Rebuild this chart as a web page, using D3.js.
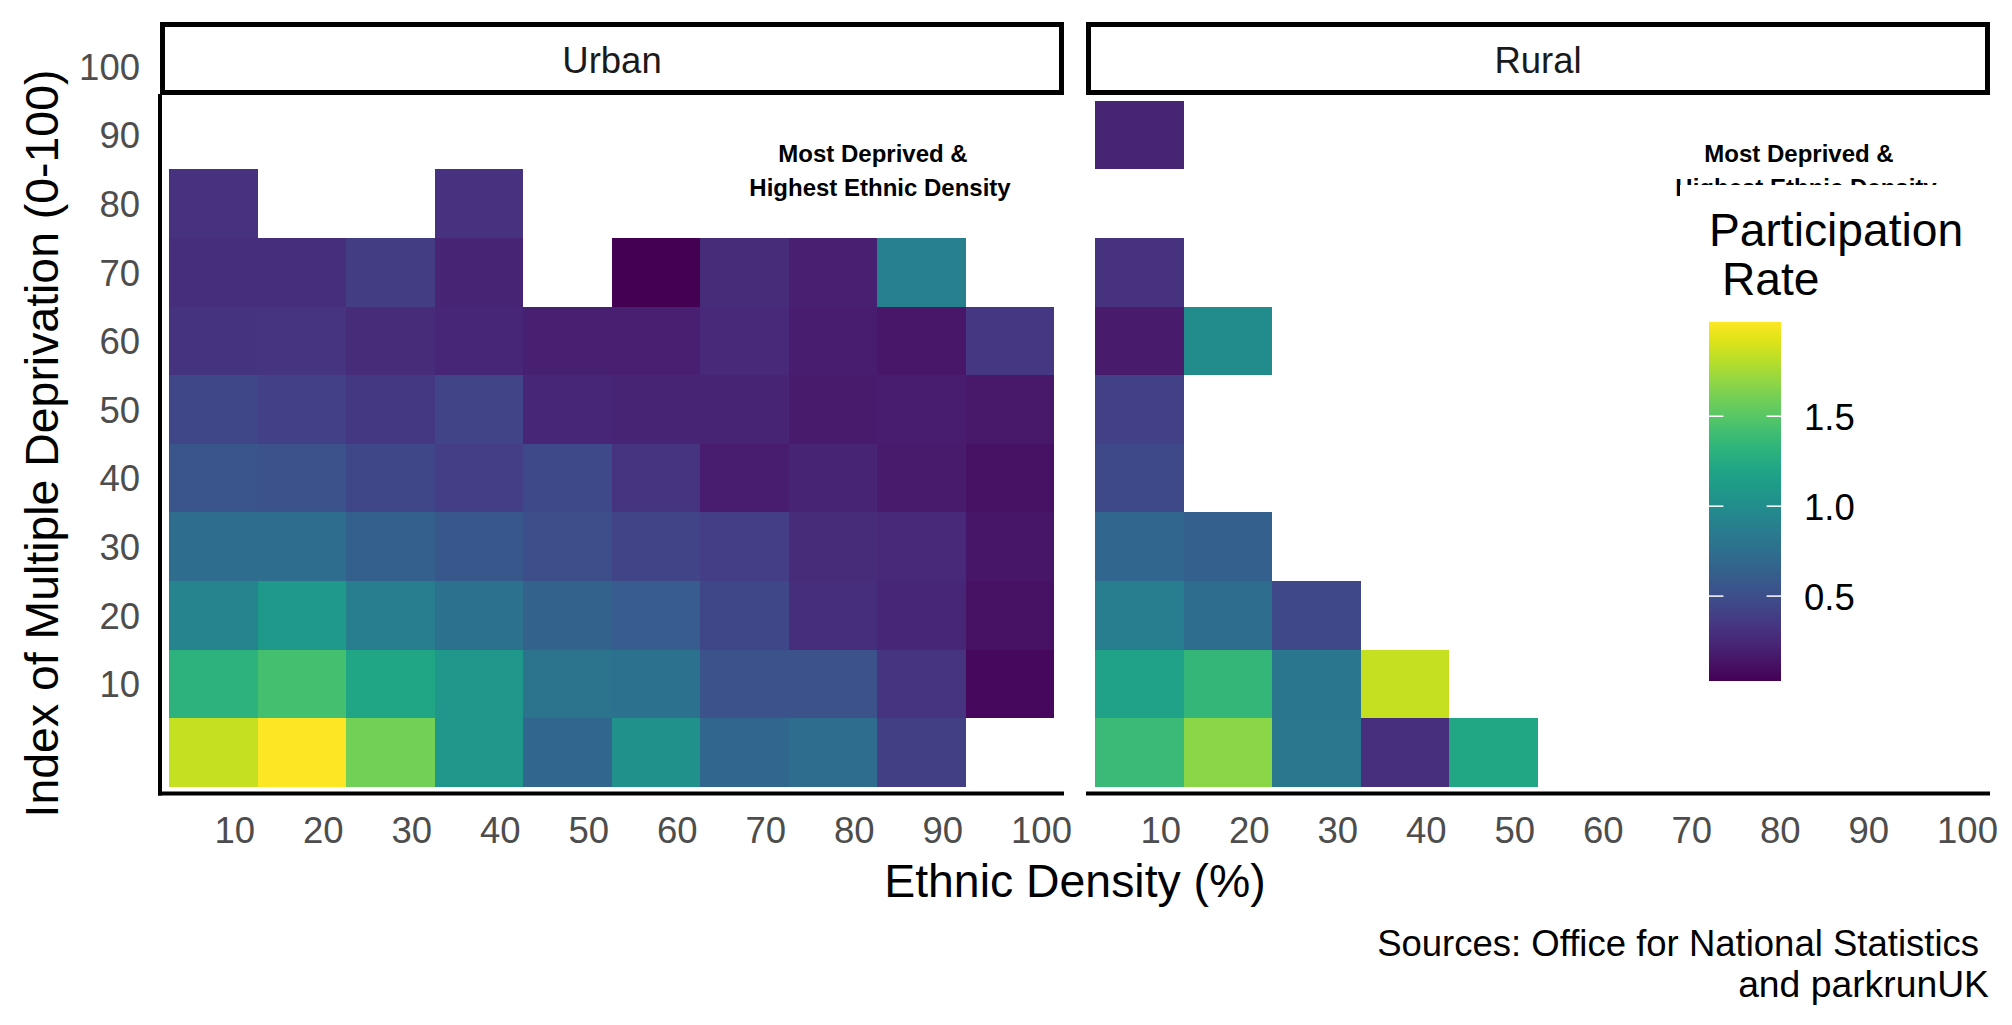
<!DOCTYPE html>
<html><head><meta charset="utf-8">
<script src="https://cdn.jsdelivr.net/npm/d3@7"></script>
<style>
html,body{margin:0;padding:0;background:#fff}
svg{display:block}
text{font-family:"Liberation Sans",Arial,sans-serif}
</style></head><body>
<svg id="c" width="2012" height="1025"></svg>
<script>
const ethnicDensity=[10,20,30,40,50,60,70,80,90,100];
const deprivation=[0,10,20,30,40,50,60,70,80,90,100];
// value rows: one list per deprivation band, columns follow ethnicDensity; null = no area
const urban0=[1.85,2.02,1.6,1.09,.69,1.03,.69,.73,.4,null];
const urban10=[1.31,1.43,1.21,1.09,.79,.77,.53,.53,.33,.07];
const urban20=[.93,1.11,.87,.77,.65,.61,.45,.29,.24,.12];
const urban30=[.73,.73,.63,.57,.51,.43,.39,.27,.25,.14];
const urban40=[.55,.53,.45,.39,.47,.33,.19,.23,.17,.12];
const urban50=[.45,.41,.35,.43,.24,.23,.23,.17,.19,.16];
const urban60=[.32,.33,.27,.24,.2,.2,.26,.18,.15,.34];
const urban70=[.29,.29,.38,.23,null,.03,.27,.2,.89,null];
const urban80=[.31,null,null,.31,null,null,null,null,null,null];
const rural0=[1.38,1.68,.83,.3,1.22,null,null,null,null,null];
const rural10=[1.18,1.35,.81,1.85,null,null,null,null,null,null];
const rural20=[.87,.73,.46,null,null,null,null,null,null,null];
const rural30=[.69,.63,null,null,null,null,null,null,null,null];
const rural40=[.47,null,null,null,null,null,null,null,null,null];
const rural50=[.41,null,null,null,null,null,null,null,null,null];
const rural60=[.17,.99,null,null,null,null,null,null,null,null];
const rural70=[.31,null,null,null,null,null,null,null,null,null];
const rural90=[.23,null,null,null,null,null,null,null,null,null];
const urbanRows=[[0,urban0],[10,urban10],[20,urban20],[30,urban30],[40,urban40],[50,urban50],[60,urban60],[70,urban70],[80,urban80]];
const ruralRows=[[0,rural0],[10,rural10],[20,rural20],[30,rural30],[40,rural40],[50,rural50],[60,rural60],[70,rural70],[90,rural90]];
const legendTicks=[.5,1,1.5];
const rateDomain=[.028,2.024];

const svg=d3.select("#c");
const color=d3.scaleSequential(d3.interpolateViridis).domain(rateDomain);
const y=d3.scaleBand().domain(deprivation).range([786.8,786.8-11*68.6]).padding(0);
const panels=[
 {name:"Urban",rows:urbanRows,left:160,right:1064,axisStart:158,cell0:169,note:[873,880]},
 {name:"Rural",rows:ruralRows,left:1086,right:1990,axisStart:1086,cell0:1095,note:[1799,1806]}
];
const GRAY="#4D4D4D";

panels.forEach(p=>{
  const x=d3.scaleBand().domain(ethnicDensity).range([p.cell0,p.cell0+885]).padding(0);
  const g=svg.append("g").attr("shape-rendering","crispEdges");
  p.rows.forEach(([dep,vals])=>{
    g.selectAll(null).data(vals.map((v,i)=>({v,c:ethnicDensity[i]})).filter(d=>d.v!==null)).join("rect")
      .attr("x",d=>x(d.c)).attr("y",y(dep)).attr("width",x.bandwidth()).attr("height",y.bandwidth())
      .attr("fill",d=>color(d.v));
  });
  // x axis
  const ax=svg.append("g").attr("transform","translate(1.3,793.5)")
    .call(d3.axisBottom(x).tickSize(0).tickPadding(0));
  ax.select(".domain").remove();
  ax.selectAll("text").attr("y",49.5).attr("dy",0).attr("text-anchor","start")
    .attr("font-size",36.5).attr("fill",GRAY);
  svg.append("line").attr("x1",p.axisStart).attr("x2",p.right).attr("y1",793.5).attr("y2",793.5)
    .attr("stroke","#000").attr("stroke-width",4);
  // strip
  svg.append("rect").attr("x",p.left+2.5).attr("y",24.5).attr("width",p.right-p.left-5).attr("height",68)
    .attr("fill","#fff").attr("stroke","#000").attr("stroke-width",5);
  svg.append("text").attr("x",(p.left+p.right)/2).attr("y",73).attr("text-anchor","middle")
    .attr("font-size",36.5).attr("fill","#1A1A1A").text(p.name);
  // note
  svg.append("text").attr("x",p.note[0]).attr("y",162).attr("text-anchor","middle")
    .attr("font-size",24).attr("font-weight","bold").attr("fill","#000").text("Most Deprived &");
  svg.append("text").attr("x",p.note[1]).attr("y",196).attr("text-anchor","middle")
    .attr("font-size",24).attr("font-weight","bold").attr("fill","#000").text("Highest Ethnic Density");
});

// y axis
const ay=svg.append("g").attr("transform","translate(140,0.6)")
  .call(d3.axisLeft(y).tickSize(0).tickPadding(0).tickFormat(d=>d===0?"":d));
ay.select(".domain").remove();
ay.selectAll("text").attr("x",0).attr("dy",".35em").attr("text-anchor","end")
  .attr("font-size",36.5).attr("fill",GRAY);
svg.append("line").attr("x1",160).attr("x2",160).attr("y1",94).attr("y2",795.5)
  .attr("stroke","#000").attr("stroke-width",4);

// titles
svg.append("text").attr("transform","translate(58,443.5) rotate(-90)").attr("text-anchor","middle")
  .attr("font-size",46.4).attr("fill","#000").text("Index of Multiple Deprivation (0-100)");
svg.append("text").attr("x",1075).attr("y",897).attr("text-anchor","middle")
  .attr("font-size",46.4).attr("fill","#000").text("Ethnic Density (%)");
svg.append("text").attr("x",1979).attr("y",955.5).attr("text-anchor","end")
  .attr("font-size",36.5).attr("fill","#000").text("Sources: Office for National Statistics");
svg.append("text").attr("x",1989).attr("y",996.5).attr("text-anchor","end")
  .attr("font-size",37.3).attr("fill","#000").text("and parkrunUK");

// legend background hides the clipped note, as in the original
svg.append("rect").attr("x",1680).attr("y",185).attr("width",320).attr("height",520).attr("fill","#fff");
svg.append("text").attr("x",1709).attr("y",246).attr("font-size",46.2).attr("fill","#000").text("Participation");
svg.append("text").attr("x",1722).attr("y",295).attr("font-size",46.2).attr("fill","#000").text("Rate");
const ly=d3.scaleLinear().domain(rateDomain).range([681,322]);
const defs=svg.append("defs");
const grad=defs.append("linearGradient").attr("id","vir").attr("x1",0).attr("x2",0).attr("y1",1).attr("y2",0);
d3.range(0,1.0001,.05).forEach(t=>grad.append("stop").attr("offset",t).attr("stop-color",d3.interpolateViridis(t)));
svg.append("rect").attr("x",1709).attr("y",322).attr("width",72).attr("height",359).attr("fill","url(#vir)");
legendTicks.forEach(t=>{
  [[1709,1723.4],[1766.6,1781]].forEach(([a,b])=>{
    svg.append("line").attr("x1",a).attr("x2",b).attr("y1",ly(t)).attr("y2",ly(t)).attr("stroke","#fff").attr("stroke-width",1.5);
  });
  svg.append("text").attr("x",1804).attr("y",ly(t)+1).attr("dy",".35em").attr("font-size",36.5).attr("fill","#000").text(d3.format(".1f")(t));
});
</script></body></html>
